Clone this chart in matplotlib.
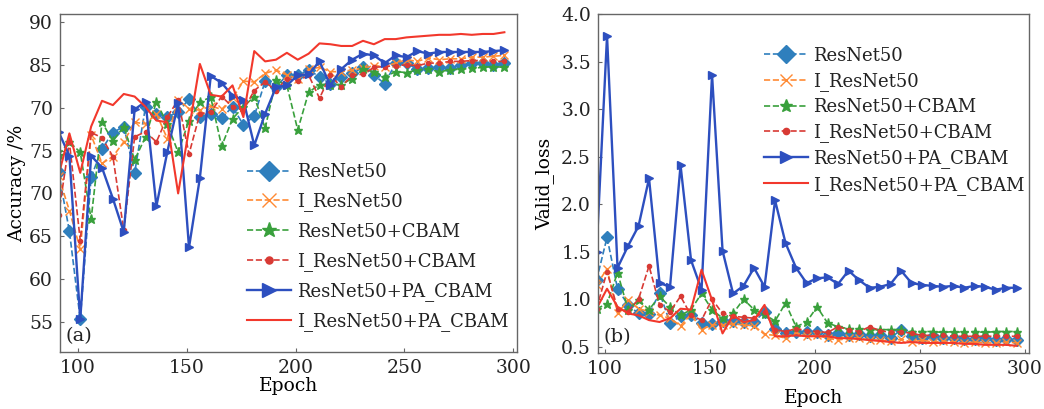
import numpy as np
import matplotlib
matplotlib.use("Agg")
import matplotlib.pyplot as plt

plotpar = {'font.family': 'serif',
           'font.serif': ['DejaVu Serif'],
           'mathtext.fontset': 'dejavuserif',
           'font.size': 13,
           'axes.labelsize': 13.5,
           'legend.fontsize': 13,
           'xtick.labelsize': 13.5,
           'ytick.labelsize': 13.5,
           'xtick.direction': 'in',
           'ytick.direction': 'in',
           'axes.edgecolor': '#666666',
           'axes.linewidth': 1.0,
           'text.color': '#222222',
           'xtick.labelcolor': '#222222',
           'ytick.labelcolor': '#222222'}
plt.rcParams.update(plotpar)

# epochs sampled every 5
epochs_acc = np.arange(91, 297, 5)
epochs_loss = np.arange(96, 297, 5)

labels = ["ResNet50", "I_ResNet50", "ResNet50+CBAM", "I_ResNet50+CBAM",
          "ResNet50+PA_CBAM", "I_ResNet50+PA_CBAM"]

# (a) accuracy / %
resnet50_acc = [72.5, 65.6, 55.3, 71.9, 75.2, 77.1, 77.8, 72.4, 80.1, 79.3,
                78.9, 79.5, 81.0, 78.9, 79.3, 78.8, 80.1, 78.0, 79.0, 83.1,
                82.4, 83.8, 83.8, 84.4, 83.6, 82.8, 83.6, 84.0, 84.7, 83.8,
                82.8, 85.2, 85.2, 84.5, 84.6, 84.7, 84.6, 85.0, 85.2, 85.2,
                85.0, 85.2]
i_resnet50_acc = [72.0, 68.0, 63.5, 76.8, 73.5, 74.3, 76.0, 78.3, 78.1, 79.3,
                  76.4, 80.9, 79.9, 79.7, 80.2, 79.8, 81.1, 83.1, 83.0, 84.0,
                  84.4, 83.8, 83.4, 84.5, 84.7, 84.2, 84.2, 84.4, 84.6, 84.9,
                  84.8, 85.2, 85.6, 85.4, 85.8, 85.6, 85.7, 85.7, 85.9, 85.9,
                  86.0, 86.1]
resnet50_cbam_acc = [74.5, 76.0, 74.8, 67.0, 78.3, 76.1, 77.8, 73.9, 76.6, 80.7,
                     78.1, 74.8, 78.5, 80.7, 81.2, 75.5, 78.7, 80.1, 81.3, 77.6,
                     83.2, 82.6, 77.4, 81.8, 82.7, 82.7, 82.7, 83.4, 84.5, 84.2,
                     83.6, 84.2, 84.1, 84.4, 84.5, 84.2, 84.4, 84.5, 84.6, 84.7,
                     84.8, 84.7]
i_resnet50_cbam_acc = [67.5, 76.0, 64.5, 77.1, 76.5, 74.3, 65.7, 76.6, 77.2, 76.0,
                       78.9, 80.9, 74.6, 79.3, 79.5, 81.3, 80.1, 79.7, 82.0, 83.0,
                       82.0, 83.4, 83.1, 83.8, 81.1, 83.8, 82.4, 83.8, 83.9, 84.7,
                       84.8, 84.9, 85.0, 84.9, 85.2, 85.2, 85.4, 85.4, 85.5, 85.5,
                       85.4, 85.4]
pa_cbam_acc = [77.2, 74.4, 55.3, 74.4, 73.0, 69.4, 65.5, 79.8, 80.7, 68.5,
               74.8, 80.5, 63.7, 71.8, 83.7, 82.9, 81.4, 80.9, 75.6, 79.3,
               82.4, 82.6, 83.8, 83.9, 85.4, 82.6, 84.5, 85.6, 86.3, 86.1,
               85.2, 86.1, 85.9, 86.6, 86.3, 86.5, 86.5, 86.5, 86.5, 86.5,
               86.6, 86.7]
i_pa_cbam_acc = [72.1, 77.0, 72.4, 77.8, 80.8, 80.3, 81.6, 81.3, 80.1, 78.5,
                 78.3, 70.0, 77.5, 85.1, 81.5, 81.3, 82.6, 78.9, 86.6, 85.4,
                 85.6, 86.4, 85.6, 86.3, 87.5, 87.4, 87.2, 87.2, 87.8, 87.4,
                 88.0, 88.0, 88.2, 88.3, 88.4, 88.5, 88.5, 88.6, 88.5, 88.6,
                 88.6, 88.8]

# (b) validation loss
resnet50_loss = [1.20, 1.65, 1.11, 0.94, 0.85, 0.84, 1.07, 0.75, 0.82, 0.83,
                 0.75, 0.74, 0.77, 0.77, 0.76, 0.76, 0.87, 0.69, 0.64, 0.66,
                 0.66, 0.65, 0.62, 0.64, 0.62, 0.63, 0.61, 0.62, 0.59, 0.68,
                 0.61, 0.59, 0.61, 0.59, 0.59, 0.58, 0.58, 0.59, 0.57, 0.58,
                 0.57]
i_resnet50_loss = [1.15, 1.32, 0.85, 0.99, 0.90, 0.87, 0.83, 0.80, 0.72, 0.84,
                   0.68, 0.73, 0.73, 0.74, 0.73, 0.72, 0.63, 0.62, 0.59, 0.65,
                   0.61, 0.62, 0.59, 0.57, 0.59, 0.59, 0.57, 0.57, 0.56, 0.58,
                   0.55, 0.57, 0.55, 0.56, 0.55, 0.54, 0.55, 0.54, 0.54, 0.55,
                   0.54]
resnet50_cbam_loss = [0.90, 0.95, 1.28, 0.89, 0.99, 0.89, 1.03, 0.92, 0.83, 0.89,
                      1.06, 0.89, 0.80, 0.85, 1.00, 0.89, 0.84, 0.77, 0.96, 0.71,
                      0.76, 0.92, 0.75, 0.71, 0.69, 0.69, 0.68, 0.68, 0.68, 0.68,
                      0.66, 0.66, 0.66, 0.65, 0.66, 0.65, 0.66, 0.65, 0.66, 0.66,
                      0.66]
i_resnet50_cbam_loss = [0.90, 1.29, 0.90, 0.87, 1.00, 1.35, 0.94, 0.87, 1.03, 0.83,
                        0.78, 1.00, 0.85, 0.82, 0.81, 0.80, 0.87, 0.68, 0.66, 0.69,
                        0.67, 0.66, 0.65, 0.71, 0.68, 0.66, 0.71, 0.67, 0.65, 0.66,
                        0.64, 0.62, 0.62, 0.62, 0.61, 0.61, 0.61, 0.61, 0.61, 0.61,
                        0.61]
pa_cbam_loss = [1.50, 3.77, 1.33, 1.56, 1.77, 2.27, 1.17, 1.13, 2.41, 1.41,
                1.10, 3.36, 1.51, 1.06, 1.14, 1.33, 1.13, 2.04, 1.59, 1.33,
                1.17, 1.22, 1.23, 1.16, 1.30, 1.20, 1.12, 1.13, 1.16, 1.30,
                1.17, 1.15, 1.14, 1.13, 1.14, 1.12, 1.14, 1.13, 1.10, 1.12,
                1.12]
i_pa_cbam_loss = [0.90, 1.11, 0.92, 0.85, 0.83, 0.78, 0.76, 0.80, 0.90, 0.89,
                  1.31, 0.99, 0.64, 0.83, 0.76, 0.78, 0.94, 0.61, 0.61, 0.62,
                  0.61, 0.61, 0.61, 0.59, 0.59, 0.58, 0.57, 0.56, 0.55, 0.54,
                  0.55, 0.54, 0.54, 0.54, 0.54, 0.53, 0.53, 0.52, 0.52, 0.52,
                  0.51]

acc = [resnet50_acc, i_resnet50_acc, resnet50_cbam_acc, i_resnet50_cbam_acc,
       pa_cbam_acc, i_pa_cbam_acc]
loss = [resnet50_loss, i_resnet50_loss, resnet50_cbam_loss, i_resnet50_cbam_loss,
        pa_cbam_loss, i_pa_cbam_loss]

# colour, linestyle, marker, markersize, linewidth
styles = [("#2f7fbd", "--", "D", 6, 1.2),
          ("#ff8a33", "--", "x", 6, 1.2),
          ("#39a03c", "--", "*", 6.5, 1.2),
          ("#d83a34", "--", ".", 6, 1.2),
          ("#2d4fbf", "-", ">", 6, 1.7),
          ("#f2382c", "-", "", 0, 1.5)]

fig = plt.figure(figsize=(10.44, 4.09), dpi=100)
ax1 = fig.add_axes([0.0575, 0.1394, 0.4377, 0.8264])
ax2 = fig.add_axes([0.5728, 0.1369, 0.4128, 0.8289])

for i in range(6):
    c, ls, m, ms, lw = styles[i]
    ax1.plot(epochs_acc, acc[i], color=c, ls=ls, marker=m, ms=ms, lw=lw,
             label=labels[i])
    ax2.plot(epochs_loss, loss[i], color=c, ls=ls, marker=m, ms=ms, lw=lw,
             label=labels[i])

ax1.set_xlim(91.7, 301.8)
ax1.set_ylim(51.5, 90.93)
ax1.set_xticks([100, 150, 200, 250, 300])
ax1.set_yticks([55, 60, 65, 70, 75, 80, 85, 90])
# the published figure prints "70" at the 80 tick
ax1.set_yticklabels(["55", "60", "65", "70", "75", "70", "85", "90"])
ax1.set_xlabel("Epoch", labelpad=0)
ax1.set_ylabel("Accuracy /%", labelpad=2)
ax1.text(0.012, 0.02, "(a)", transform=ax1.transAxes, ha="left", va="bottom",
         fontsize=14)
ax1.legend(loc="lower left", bbox_to_anchor=(0.39, 0.035), frameon=False,
           borderpad=0, markerscale=1.7, handlelength=2.4, handletextpad=0.35,
           labelspacing=0.62)

ax2.set_xlim(96.7, 301.9)
ax2.set_ylim(0.434, 4.0)
ax2.set_xticks([100, 150, 200, 250, 300])
ax2.set_yticks([0.5, 1.0, 1.5, 2.0, 2.5, 3.0, 3.5, 4.0])
ax2.set_yticklabels(["0.5", "1.0", "1.5", "2.0", "2.5", "3.0", "3.5", "4.0"])
ax2.set_xlabel("Epoch", labelpad=8)
ax2.set_ylabel("Valid_loss", labelpad=5)
ax2.text(0.012, 0.02, "(b)", transform=ax2.transAxes, ha="left", va="bottom",
         fontsize=14)
ax2.legend(loc="upper left", bbox_to_anchor=(0.365, 0.93), frameon=False,
           borderpad=0, markerscale=1.5, handlelength=2.4, handletextpad=0.3,
           labelspacing=0.4)

for ax in [ax1, ax2]:
    ax.tick_params(length=3, color="#666666", pad=5)

plt.savefig("out.png", dpi=100)
